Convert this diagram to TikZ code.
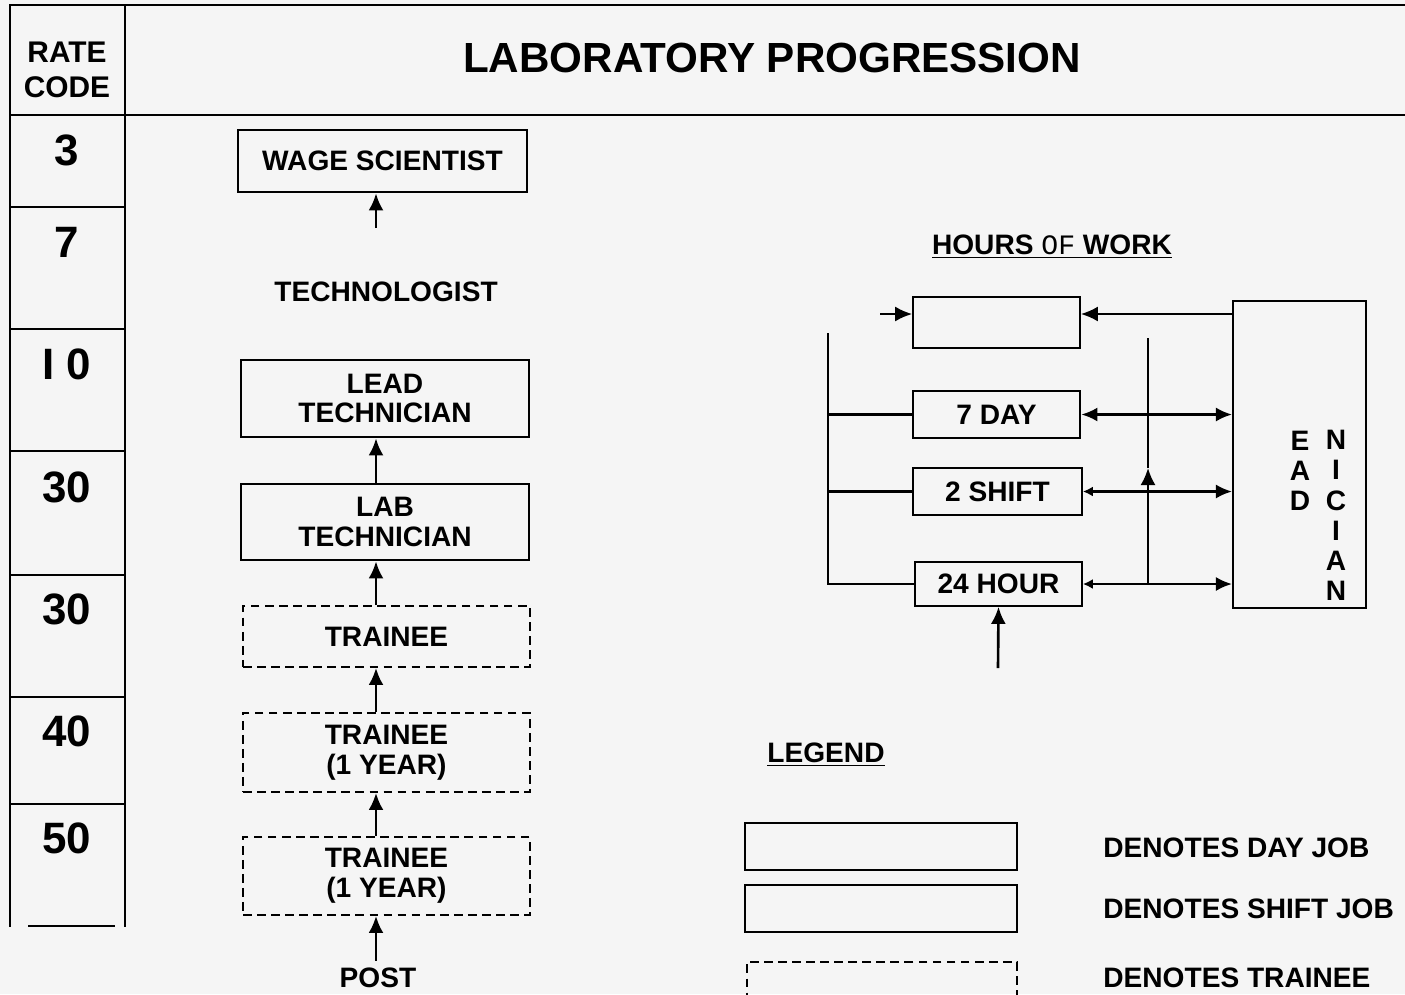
\documentclass[tikz,border=0pt]{standalone}
\usepackage{fontspec}
\setmainfont{Liberation Sans}
\setmonofont{Liberation Mono}
\usetikzlibrary{arrows.meta,positioning}
\definecolor{PaperGray}{RGB}{245,245,245}

\begin{document}
\begin{tikzpicture}[x=0.02cm,y=-0.02cm,
  grid/.style={line width=1.4pt},
  txt/.style={font=\fontsize{16}{17}\selectfont\bfseries,align=center,inner sep=0pt},
  dayjob/.style={txt,draw,line width=1.6pt,minimum width=5.78cm},
  shiftjob/.style={txt,draw,line width=1.0pt,minimum width=5.78cm},
  trainee/.style={txt,draw,line width=1.1pt,dash pattern=on 5pt off 3pt,minimum width=5.74cm},
  rate/.style={font=\fontsize{25}{27}\selectfont\bfseries,inner sep=0pt},
  arr/.style={-{Latex[length=0.34cm,width=0.3cm]},line width=1.5pt},
  dbl/.style={{Latex[length=0.32cm,width=0.28cm]}-{Latex[length=0.32cm,width=0.28cm]},line width=1.3pt},
  sdbl/.style={{Latex[length=0.2cm,width=0.2cm]}-{Latex[length=0.32cm,width=0.28cm]},line width=1.3pt},
  ln/.style={line width=1.2pt},
]
\fill[PaperGray] (0,0) rectangle (1405,994);
\useasboundingbox (0,0) rectangle (1405,994);

% rate code table
\draw[grid] (1405,5) -- (10,5) -- (10,927);
\draw[grid] (125,5) -- (125,927);
\draw[grid] (10,115) -- (1405,115);
\foreach \y in {207,329,451,575,697,804}
  \draw[grid] (10,\y) -- (125,\y);
\draw[grid] (28,926) -- (115,926);
\node[font=\fontsize{17}{20}\selectfont\bfseries,align=center,inner sep=0pt] (ratehd) at (67,70) {RATE\\CODE};
\node[font=\fontsize{24}{26}\selectfont\bfseries,inner sep=0pt] (title) at (772,58) {LABORATORY PROGRESSION};
\foreach \y/\t [count=\i] in {150/3,242/7,364/{I 0},487/30,609/30,731/40,838/50}
  \node[rate] (rc\i) at (67,\y) {\t};

% progression ladder
\node[dayjob,minimum height=1.24cm] (wage) at (382.5,161) {WAGE SCIENTIST};
\node[txt] (techno) at (386,292) {TECHNOLOGIST};
\node[dayjob,minimum height=1.54cm,minimum width=5.76cm] (lead) at (385,398.5) {LEAD\\TECHNICIAN};
\node[dayjob,minimum height=1.52cm,minimum width=5.76cm] (lab) at (385,522) {LAB\\TECHNICIAN};
\node[trainee,minimum height=1.22cm] (tra) at (386.5,636.5) {TRAINEE};
\node[trainee,minimum height=1.58cm] (trb) at (386.5,752.5) {TRAINEE\\(1 YEAR)};
\node[trainee,minimum height=1.56cm] (trc) at (386.5,876) {TRAINEE\\(1 YEAR)};
\node[txt] (post) at (378,978) {POST};
\coordinate (ladder) at (376,228);
\draw[arr] (ladder) -- (ladder |- wage.south);
\draw[arr] ([yshift=0.14cm]post.north -| ladder) -- (trc.south -| ladder);
\foreach \a/\b in {trc/trb,trb/tra,tra/lab,lab/lead}
  \draw[arr] (\a.north -| ladder) -- (\b.south -| ladder);

% hours of work
\node[txt] (hours) at (1052,247) {\underline{HOURS \texttt{\mdseries OF} WORK}};
\node[shiftjob,minimum width=3.34cm,minimum height=1.02cm] (top) at (996.5,322.5) {};
\node[dayjob,minimum width=3.34cm,minimum height=0.94cm] (day7) at (996.5,414.5) {7 DAY};
\node[shiftjob,minimum width=3.38cm,minimum height=0.94cm] (shift2) at (997.5,491.5) {2 SHIFT};
\node[shiftjob,minimum width=3.34cm,minimum height=0.88cm] (h24) at (998.5,584) {24 HOUR};
\node[draw,line width=1.2pt,minimum width=2.66cm,minimum height=6.14cm,inner sep=0pt] (leadr) at (1299.5,454.5) {};
\node[txt,font=\fontsize{16}{17.2}\selectfont\bfseries] (leadc1) at (1300,471) {E\\A\\D};
\node[txt,font=\fontsize{16}{17.2}\selectfont\bfseries] (leadc2) at (1336,515.5) {N\\I\\C\\I\\A\\N};
\coordinate (topin) at (880,314);
\coordinate (lefttop) at (828,333);
\coordinate (vtop) at (1148,338);
\coordinate (vmid) at (1148,468);
\coordinate (h24in) at (998,668);
\draw[arr,line width=1.2pt] (topin) -- (topin -| top.west);
\draw[arr,line width=1.2pt] (topin -| leadr.west) -- (topin -| top.east);
\draw[ln] (lefttop) |- (h24.west);
\draw[ln] (lefttop |- day7.west) -- (day7.west);
\draw[ln] (lefttop |- shift2.west) -- (shift2.west);
\draw[dbl] (day7.east) -- (day7.east -| leadr.west);
\draw[sdbl] (shift2.east) -- (shift2.east -| leadr.west);
\draw[sdbl] (h24.east) -- (h24.east -| leadr.west);
\draw[arr,line width=1.3pt] (h24.east -| vtop) -- (vmid);
\draw[ln] (vmid) -- (vtop);
\draw[arr] (h24in) -- (h24.south);

% legend
\node[txt] (legend) at (826,755) {\underline{LEGEND}};
\node[dayjob,minimum width=5.44cm,minimum height=0.94cm] (lgday) at (881,846.5) {};
\node[shiftjob,minimum width=5.44cm,minimum height=0.94cm] (lgshift) at (881,908.5) {};
\node[trainee,minimum width=5.40cm,minimum height=0.96cm] (lgtrain) at (882,986) {};
\node[txt,anchor=west] (lgdayt) at (1103,848) {DENOTES DAY JOB};
\node[txt,anchor=west] (lgshiftt) at (1103,909) {DENOTES SHIFT JOB};
\node[txt,anchor=west] (lgtraint) at (1103,978) {DENOTES TRAINEE};
\end{tikzpicture}
\end{document}
